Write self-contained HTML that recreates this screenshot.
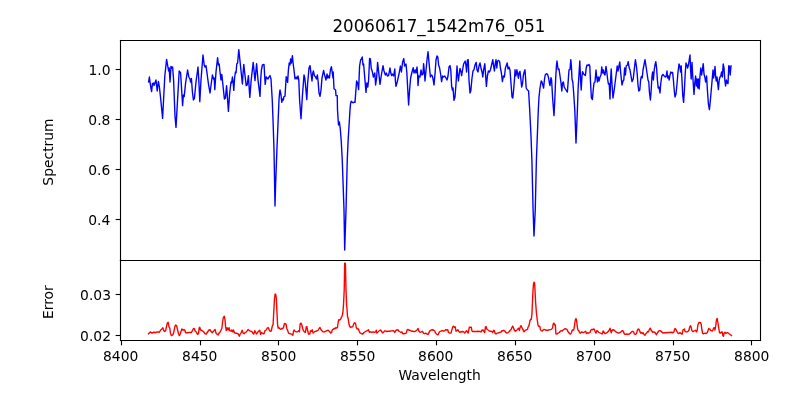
<!DOCTYPE html>
<html><head><meta charset="utf-8"><title>20060617_1542m76_051</title>
<style>html,body{margin:0;padding:0;background:#fff;overflow:hidden}svg{display:block}</style></head>
<body>
<svg width="800" height="400" viewBox="0 0 576 288" version="1.1">
 
 <defs>
  <style type="text/css">*{stroke-linejoin: round; stroke-linecap: butt}</style>
 </defs>
 <g id="figure_1">
  <g id="patch_1">
   <path d="M 0 288 
L 576 288 
L 576 0 
L 0 0 
z
" style="fill: #ffffff"/>
  </g>
  <g id="axes_1">
   <g id="patch_2">
    <path d="M 86.4 187.2 
L 547.2 187.2 
L 547.2 28.8 
L 86.4 28.8 
z
" style="fill: #ffffff"/>
   </g>
   <g id="matplotlib.axis_1">
    <g id="xtick_1"/>
    <g id="xtick_2"/>
    <g id="xtick_3"/>
    <g id="xtick_4"/>
    <g id="xtick_5"/>
    <g id="xtick_6"/>
    <g id="xtick_7"/>
    <g id="xtick_8"/>
    <g id="xtick_9"/>
   </g>
   <g id="matplotlib.axis_2">
    <g id="ytick_1">
     <g id="line2d_1">
      <defs>
       <path id="me117268fb3" d="M 0 0 
L -3.5 0 
" style="stroke: #000000; stroke-width: 0.8"/>
      </defs>
      <g>
       <use href="#me117268fb3" x="86.7600" y="158.0400" style="stroke: #000000; stroke-width: 0.8"/>
      </g>
     </g>
     <g id="text_1">
      <text style="font-size: 10px; font-family: 'DejaVu Sans', sans-serif; text-anchor: end" x="79.4720" y="161.7672">0.4</text>
     </g>
    </g>
    <g id="ytick_2">
     <g id="line2d_2">
      <g>
       <use href="#me117268fb3" x="86.7600" y="122.0400" style="stroke: #000000; stroke-width: 0.8"/>
      </g>
     </g>
     <g id="text_2">
      <text style="font-size: 10px; font-family: 'DejaVu Sans', sans-serif; text-anchor: end" x="79.4360" y="125.8392">0.6</text>
     </g>
    </g>
    <g id="ytick_3">
     <g id="line2d_3">
      <g>
       <use href="#me117268fb3" x="86.7600" y="86.0400" style="stroke: #000000; stroke-width: 0.8"/>
      </g>
     </g>
     <g id="text_3">
      <text style="font-size: 10px; font-family: 'DejaVu Sans', sans-serif; text-anchor: end" x="79.5080" y="89.8032">0.8</text>
     </g>
    </g>
    <g id="ytick_4">
     <g id="line2d_4">
      <g>
       <use href="#me117268fb3" x="86.7600" y="50.0400" style="stroke: #000000; stroke-width: 0.8"/>
      </g>
     </g>
     <g id="text_4">
      <text style="font-size: 10px; font-family: 'DejaVu Sans', sans-serif; text-anchor: end" x="79.5440" y="53.7672">1.0</text>
     </g>
    </g>
    <g id="text_5">
     <text style="font-size: 10px; font-family: 'DejaVu Sans', sans-serif; text-anchor: middle" x="38.2403" y="109.4400" transform="rotate(-90 38.2403 109.4400)">Spectrum</text>
    </g>
   </g>
   <g id="line2d_5">
    <path d="M 106.992 59.04 
L 107.568 55.44 
L 108.288 61.2 
L 109.152 65.952 
L 109.728 60.192 
L 110.592 59.76 
L 110.88 61.632 
L 112.32 57.6 
L 113.184 65.52 
L 114.048 58.608 
L 114.768 62.64 
L 115.632 70.56 
L 117.072 85.248 
L 118.656 54.72 
L 119.952 42.768 
L 121.392 51.12 
L 121.824 48.96 
L 122.4 59.04 
L 123.12 47.808 
L 123.84 49.248 
L 124.272 48.24 
L 124.992 57.6 
L 126 83.52 
L 126.72 91.728 
L 129.024 51.12 
L 130.032 52.56 
L 131.472 76.032 
L 132.048 68.4 
L 132.624 69.552 
L 133.632 59.76 
L 135.072 50.4 
L 135.936 55.44 
L 136.8 56.88 
L 137.232 59.04 
L 137.808 56.448 
L 138.528 66.24 
L 139.248 72 
L 139.968 70.848 
L 141.12 59.04 
L 142.56 48.24 
L 143.136 57.6 
L 143.856 73.152 
L 144.72 57.6 
L 146.16 39.6 
L 147.024 46.8 
L 147.6 48.24 
L 148.32 47.232 
L 150.192 61.2 
L 151.2 66.96 
L 152.928 54 
L 153.792 56.88 
L 154.224 56.16 
L 154.656 64.512 
L 155.52 51.84 
L 156.672 41.472 
L 157.248 46.8 
L 157.824 46.08 
L 158.4 51.84 
L 159.12 57.6 
L 159.696 53.568 
L 161.568 71.28 
L 162.288 70.56 
L 163.152 61.632 
L 164.448 80.208 
L 165.312 67.68 
L 166.32 59.04 
L 166.752 59.76 
L 167.328 55.44 
L 167.904 59.76 
L 168.336 65.088 
L 168.912 56.16 
L 169.488 51.84 
L 169.92 52.56 
L 170.496 46.08 
L 171.072 45.36 
L 171.936 35.712 
L 174.528 60.48 
L 174.96 53.28 
L 175.536 46.368 
L 176.112 51.84 
L 177.264 61.632 
L 177.984 61.2 
L 178.848 54.432 
L 179.856 70.128 
L 180.864 57.6 
L 182.304 44.928 
L 183.6 58.032 
L 184.752 45.792 
L 185.76 57.6 
L 187.2 69.408 
L 187.776 56.16 
L 188.208 50.4 
L 188.928 46.8 
L 190.08 46.368 
L 190.944 60.768 
L 191.664 55.44 
L 192.96 56.88 
L 193.68 55.44 
L 194.4 54.432 
L 195.12 56.88 
L 196.02 72 
L 196.632 87.84 
L 197.28 108 
L 198 148.32 
L 198.432 133.2 
L 199.368 108 
L 200.88 72 
L 201.312 66.6 
L 201.6 64.8 
L 202.32 68.4 
L 202.896 73.728 
L 203.472 71.28 
L 204.048 72 
L 204.336 69.696 
L 205.2 69.264 
L 206.064 55.296 
L 206.496 56.16 
L 207.072 59.328 
L 207.648 50.4 
L 208.224 45.36 
L 208.8 46.8 
L 209.232 42.48 
L 209.808 45.36 
L 210.528 40.032 
L 211.104 46.08 
L 211.68 50.4 
L 212.4 56.88 
L 213.264 55.44 
L 213.84 56.88 
L 214.56 54.72 
L 215.136 57.6 
L 215.712 72 
L 216.72 85.536 
L 217.728 69.12 
L 218.88 54 
L 219.456 56.16 
L 220.032 61.92 
L 220.896 71.712 
L 221.472 60.48 
L 222.48 48.96 
L 223.2 47.232 
L 224.64 58.32 
L 225.216 52.56 
L 225.648 51.12 
L 226.368 54.432 
L 227.232 55.44 
L 227.808 56.88 
L 228.528 54 
L 228.96 57.6 
L 229.68 66.96 
L 230.4 69.408 
L 231.12 64.8 
L 231.84 56.16 
L 232.992 50.688 
L 233.712 54 
L 234.72 57.6 
L 235.44 53.28 
L 236.016 56.16 
L 236.592 54.72 
L 237.168 56.16 
L 237.888 50.4 
L 238.608 47.952 
L 239.76 56.16 
L 239.904 51.84 
L 240.48 63.9 
L 241.632 64.8 
L 241.92 68.832 
L 242.82 68.832 
L 243 79.2 
L 243.72 90 
L 244.368 87.84 
L 244.98 92.7 
L 245.7 101.7 
L 246.42 115.2 
L 247.68 151.2 
L 248.184 180 
L 249.12 151.2 
L 250.02 115.2 
L 250.632 101.52 
L 252 79.2 
L 252.36 74.88 
L 252.864 72.864 
L 253.584 73.584 
L 254.304 74.016 
L 254.88 73.584 
L 255.6 73.728 
L 256.752 58.32 
L 257.472 59.76 
L 258.192 64.512 
L 258.912 47.52 
L 259.632 43.2 
L 260.208 42.48 
L 260.784 41.04 
L 261.36 46.8 
L 261.792 46.08 
L 263.52 66.528 
L 264.096 59.76 
L 264.816 62.64 
L 265.392 57.6 
L 266.112 42.048 
L 266.688 42.48 
L 267.264 48.96 
L 268.128 51.84 
L 268.848 55.44 
L 269.424 54 
L 269.856 52.56 
L 270.432 61.2 
L 271.152 56.16 
L 271.872 44.928 
L 273.6 60.768 
L 274.464 54.72 
L 275.76 47.232 
L 276.48 51.12 
L 277.488 54 
L 278.208 52.56 
L 278.928 54.72 
L 279.792 54.432 
L 280.8 48.96 
L 281.376 52.56 
L 281.952 54.432 
L 282.528 53.28 
L 283.392 54.72 
L 284.256 49.68 
L 284.688 58.32 
L 285.12 62.208 
L 285.984 59.04 
L 287.28 53.28 
L 288.288 47.52 
L 289.008 51.84 
L 289.872 44.64 
L 290.736 42.192 
L 291.312 47.52 
L 292.32 46.08 
L 292.896 51.84 
L 294.192 75.6 
L 294.912 64.8 
L 295.632 56.16 
L 296.64 51.84 
L 297.504 48.672 
L 298.08 52.56 
L 298.944 50.4 
L 299.52 52.56 
L 300.24 48.24 
L 300.672 53.28 
L 300.96 61.632 
L 301.536 54.72 
L 302.4 55.44 
L 303.12 50.4 
L 303.84 54 
L 304.56 53.28 
L 304.992 45.792 
L 305.568 51.84 
L 306 58.32 
L 307.44 43.2 
L 308.16 37.152 
L 309.888 55.44 
L 310.608 54 
L 311.328 54.72 
L 311.904 57.6 
L 312.48 61.2 
L 313.2 53.28 
L 313.92 43.2 
L 314.64 40.32 
L 315.216 41.04 
L 315.792 46.8 
L 316.512 48.96 
L 317.232 53.28 
L 317.952 58.752 
L 318.672 54.72 
L 319.392 55.44 
L 320.256 54.72 
L 321.12 56.16 
L 321.84 57.6 
L 322.56 54.72 
L 323.28 48.24 
L 324 47.232 
L 324.576 50.4 
L 325.152 61.92 
L 325.728 64.8 
L 326.16 63.36 
L 326.88 72.288 
L 327.6 69.84 
L 328.32 60.48 
L 329.04 47.52 
L 329.472 53.28 
L 330.048 58.32 
L 330.624 53.28 
L 331.2 49.248 
L 331.92 51.84 
L 332.352 54.432 
L 333.792 46.08 
L 334.944 43.92 
L 335.52 47.52 
L 335.952 51.84 
L 336.528 43.2 
L 337.104 42.912 
L 337.68 57.6 
L 338.4 66.96 
L 338.976 65.52 
L 339.84 56.16 
L 340.56 51.12 
L 341.28 50.112 
L 342 46.8 
L 342.864 44.928 
L 343.44 50.4 
L 344.16 51.84 
L 344.88 47.52 
L 345.6 45.36 
L 346.32 48.96 
L 347.04 51.84 
L 347.616 55.44 
L 348.192 50.4 
L 349.056 45.792 
L 350.208 62.208 
L 350.928 54.72 
L 351.648 51.12 
L 352.368 51.84 
L 353.088 50.4 
L 354.816 42.912 
L 355.392 47.52 
L 355.968 51.12 
L 356.544 46.08 
L 357.12 42.912 
L 357.696 48.96 
L 358.272 43.92 
L 358.992 43.488 
L 359.712 44.352 
L 360.288 48.96 
L 361.008 52.56 
L 361.728 58.752 
L 362.448 54.72 
L 363.168 55.44 
L 363.888 48.96 
L 365.184 45.36 
L 365.76 49.68 
L 366.48 48.24 
L 367.2 50.4 
L 368.64 69.84 
L 369.216 70.56 
L 369.792 64.8 
L 370.512 56.16 
L 370.8 50.256 
L 371.448 54.576 
L 372.168 50.256 
L 373.248 56.304 
L 373.824 52.128 
L 374.4 51.408 
L 375.624 62.64 
L 376.272 59.76 
L 376.848 54 
L 377.424 51.84 
L 378 50.256 
L 378.864 63.36 
L 379.728 64.8 
L 380.592 65.52 
L 381.384 79.2 
L 382.32 97.92 
L 382.968 115.2 
L 383.832 151.2 
L 384.48 169.92 
L 385.38 151.2 
L 386.208 115.2 
L 387.576 79.2 
L 388.08 69.84 
L 388.8 63.36 
L 389.664 58.32 
L 390.24 59.04 
L 391.392 63.36 
L 391.968 57.6 
L 392.544 54 
L 393.408 52.992 
L 394.272 53.568 
L 394.992 56.16 
L 395.568 59.76 
L 396 61.632 
L 396.72 55.872 
L 397.152 57.6 
L 397.872 70.56 
L 398.88 83.232 
L 399.456 72 
L 400.032 57.6 
L 400.608 47.52 
L 401.04 43.92 
L 401.472 47.52 
L 401.904 50.112 
L 402.48 49.68 
L 403.92 59.76 
L 404.496 65.52 
L 405.072 59.76 
L 405.648 59.04 
L 406.224 62.64 
L 407.952 65.52 
L 408.528 66.24 
L 409.68 50.4 
L 410.4 50.112 
L 410.976 42.912 
L 411.408 47.52 
L 411.84 56.88 
L 412.416 59.04 
L 412.992 66.24 
L 413.856 79.2 
L 414.72 102.96 
L 415.728 79.2 
L 416.232 63.9 
L 417.456 43.92 
L 418.032 57.6 
L 418.464 64.8 
L 419.04 54.72 
L 419.472 51.552 
L 420.192 53.28 
L 421.488 54.432 
L 422.064 48.96 
L 422.64 46.8 
L 423.36 47.232 
L 424.08 46.368 
L 424.656 47.52 
L 425.088 57.6 
L 425.808 70.56 
L 426.528 71.712 
L 427.104 64.8 
L 427.68 59.76 
L 428.4 59.04 
L 429.12 50.4 
L 429.552 54.72 
L 430.128 59.04 
L 430.704 55.44 
L 431.28 58.32 
L 432 55.44 
L 432.72 54 
L 433.296 48.24 
L 433.872 52.56 
L 434.448 50.4 
L 435.024 53.28 
L 435.6 54 
L 436.32 47.808 
L 436.896 51.84 
L 437.472 56.88 
L 438.048 60.48 
L 438.624 60.192 
L 439.2 71.28 
L 439.632 57.6 
L 440.064 49.68 
L 440.64 60.48 
L 441.36 70.56 
L 442.224 64.8 
L 444.384 47.52 
L 444.96 51.12 
L 446.256 44.64 
L 446.832 51.84 
L 447.84 61.2 
L 448.56 58.32 
L 449.136 57.6 
L 449.712 48.96 
L 450.288 54 
L 450.864 47.52 
L 451.728 46.8 
L 452.304 44.352 
L 452.88 48.24 
L 453.6 50.4 
L 455.04 58.752 
L 455.904 56.88 
L 457.488 42.912 
L 458.208 47.52 
L 458.784 53.28 
L 459.36 61.2 
L 459.936 65.52 
L 460.656 64.8 
L 461.232 57.6 
L 461.808 55.008 
L 462.384 56.16 
L 462.96 50.4 
L 464.4 42.912 
L 465.84 52.56 
L 466.56 57.6 
L 467.136 59.04 
L 467.568 66.24 
L 468.288 72 
L 468.864 64.8 
L 469.44 54.72 
L 469.872 51.84 
L 470.448 57.6 
L 471.024 50.4 
L 471.6 46.8 
L 472.176 44.352 
L 472.752 48.96 
L 473.328 57.6 
L 473.904 63.36 
L 474.48 62.64 
L 475.2 66.96 
L 475.776 59.76 
L 476.496 54.72 
L 477.36 53.568 
L 478.224 54.72 
L 479.088 55.44 
L 479.664 54.72 
L 480.24 51.12 
L 480.672 56.16 
L 481.248 54.72 
L 481.824 57.6 
L 482.4 54 
L 482.976 51.84 
L 483.696 52.56 
L 484.272 52.128 
L 484.848 57.6 
L 485.424 64.8 
L 486 69.84 
L 486.72 67.68 
L 487.44 60.48 
L 488.16 51.84 
L 488.88 46.08 
L 489.456 47.52 
L 490.032 51.84 
L 490.464 47.52 
L 491.616 69.12 
L 492.192 73.728 
L 492.768 64.8 
L 493.344 53.28 
L 493.92 45.36 
L 494.496 46.8 
L 495.072 48.96 
L 495.648 46.8 
L 496.8 39.6 
L 497.232 50.4 
L 497.664 56.88 
L 498.24 44.928 
L 498.672 53.28 
L 499.68 67.968 
L 500.256 59.76 
L 500.832 54.72 
L 501.408 61.92 
L 501.84 56.88 
L 502.416 63.36 
L 502.848 56.88 
L 503.424 64.08 
L 504 54.72 
L 504.576 48.96 
L 505.152 54 
L 505.728 50.4 
L 506.304 45.792 
L 506.88 53.28 
L 507.456 55.44 
L 508.032 59.04 
L 508.752 54.72 
L 509.328 64.8 
L 510.048 74.88 
L 510.768 78.912 
L 511.488 72 
L 513.36 50.4 
L 513.792 56.16 
L 514.368 52.56 
L 514.8 47.808 
L 515.232 54.72 
L 515.664 58.32 
L 516.24 55.44 
L 517.248 64.512 
L 517.824 57.6 
L 518.4 55.44 
L 518.976 54.72 
L 519.552 51.84 
L 520.128 55.44 
L 520.704 46.08 
L 521.28 48.96 
L 521.856 57.6 
L 522.432 61.92 
L 523.008 57.6 
L 523.584 59.76 
L 524.16 60.192 
L 524.736 47.232 
L 525.24 47.808 
L 525.744 54 
L 526.32 47.52 
L 526.32 47.52 
" clip-path="url(#p5e064cdd18)" style="fill: none; stroke: #0000ff; stroke-linecap: square"/>
   </g>
   <g id="patch_3">
    <path d="M 86.7600 187.5600 L 86.7600 29.1600" style="fill: none; stroke: #000000; stroke-width: 0.8; stroke-linejoin: miter; stroke-linecap: square"/>
   </g>
   <g id="patch_4">
    <path d="M 547.5600 187.5600 L 547.5600 29.1600" style="fill: none; stroke: #000000; stroke-width: 0.8; stroke-linejoin: miter; stroke-linecap: square"/>
   </g>
   <g id="patch_5">
    <path d="M 86.7600 187.5600 L 547.5600 187.5600" style="fill: none; stroke: #000000; stroke-width: 0.8; stroke-linejoin: miter; stroke-linecap: square"/>
   </g>
   <g id="patch_6">
    <path d="M 86.7600 29.1600 L 547.5600 29.1600" style="fill: none; stroke: #000000; stroke-width: 0.8; stroke-linejoin: miter; stroke-linecap: square"/>
   </g>
   <g id="text_6">
    <text style="font-size: 12px; font-family: 'DejaVu Sans', sans-serif; text-anchor: middle" x="316.0800" y="22.9440" transform="translate(0 22.9440) scale(1 1.1000) translate(0 -22.9440)">20060617_1542m76_051</text>
   </g>
  </g>
  <g id="axes_2">
   <g id="patch_7">
    <path d="M 86.4 244.8 
L 547.2 244.8 
L 547.2 187.2 
L 86.4 187.2 
z
" style="fill: #ffffff"/>
   </g>
   <g id="matplotlib.axis_3">
    <g id="xtick_10">
     <g id="line2d_6">
      <defs>
       <path id="m2cc2ab7b81" d="M 0 0 
L 0 3.5 
" style="stroke: #000000; stroke-width: 0.8"/>
      </defs>
      <g>
       <use href="#m2cc2ab7b81" x="87.4800" y="245.1600" style="stroke: #000000; stroke-width: 0.8"/>
      </g>
     </g>
     <g id="text_7">
      <text style="font-size: 10px; font-family: 'DejaVu Sans', sans-serif; text-anchor: middle" x="86.9114" y="260.1544">8400</text>
     </g>
    </g>
    <g id="xtick_11">
     <g id="line2d_7">
      <g>
       <use href="#m2cc2ab7b81" x="144.3600" y="245.1600" style="stroke: #000000; stroke-width: 0.8"/>
      </g>
     </g>
     <g id="text_8">
      <text style="font-size: 10px; font-family: 'DejaVu Sans', sans-serif; text-anchor: middle" x="143.7991" y="260.1544">8450</text>
     </g>
    </g>
    <g id="xtick_12">
     <g id="line2d_8">
      <g>
       <use href="#m2cc2ab7b81" x="200.5200" y="245.1600" style="stroke: #000000; stroke-width: 0.8"/>
      </g>
     </g>
     <g id="text_9">
      <text style="font-size: 10px; font-family: 'DejaVu Sans', sans-serif; text-anchor: middle" x="200.6940" y="260.1688">8500</text>
     </g>
    </g>
    <g id="xtick_13">
     <g id="line2d_9">
      <g>
       <use href="#m2cc2ab7b81" x="257.4000" y="245.1600" style="stroke: #000000; stroke-width: 0.8"/>
      </g>
     </g>
     <g id="text_10">
      <text style="font-size: 10px; font-family: 'DejaVu Sans', sans-serif; text-anchor: middle" x="257.5458" y="260.1688">8550</text>
     </g>
    </g>
    <g id="xtick_14">
     <g id="line2d_10">
      <g>
       <use href="#m2cc2ab7b81" x="314.2800" y="245.1600" style="stroke: #000000; stroke-width: 0.8"/>
      </g>
     </g>
     <g id="text_11">
      <text style="font-size: 10px; font-family: 'DejaVu Sans', sans-serif; text-anchor: middle" x="313.7567" y="260.1760">8600</text>
     </g>
    </g>
    <g id="xtick_15">
     <g id="line2d_11">
      <g>
       <use href="#m2cc2ab7b81" x="371.1600" y="245.1600" style="stroke: #000000; stroke-width: 0.8"/>
      </g>
     </g>
     <g id="text_12">
      <text style="font-size: 10px; font-family: 'DejaVu Sans', sans-serif; text-anchor: middle" x="370.6301" y="260.1760">8650</text>
     </g>
    </g>
    <g id="xtick_16">
     <g id="line2d_12">
      <g>
       <use href="#m2cc2ab7b81" x="428.0400" y="245.1600" style="stroke: #000000; stroke-width: 0.8"/>
      </g>
     </g>
     <g id="text_13">
      <text style="font-size: 10px; font-family: 'DejaVu Sans', sans-serif; text-anchor: middle" x="427.5178" y="260.1760">8700</text>
     </g>
    </g>
    <g id="xtick_17">
     <g id="line2d_13">
      <g>
       <use href="#m2cc2ab7b81" x="484.9200" y="245.1600" style="stroke: #000000; stroke-width: 0.8"/>
      </g>
     </g>
     <g id="text_14">
      <text style="font-size: 10px; font-family: 'DejaVu Sans', sans-serif; text-anchor: middle" x="484.3263" y="260.1760">8750</text>
     </g>
    </g>
    <g id="xtick_18">
     <g id="line2d_14">
      <g>
       <use href="#m2cc2ab7b81" x="541.0800" y="245.1600" style="stroke: #000000; stroke-width: 0.8"/>
      </g>
     </g>
     <g id="text_15">
      <text style="font-size: 10px; font-family: 'DejaVu Sans', sans-serif; text-anchor: middle" x="541.2789" y="260.1688">8800</text>
     </g>
    </g>
    <g id="text_16">
     <text style="font-size: 10px; font-family: 'DejaVu Sans', sans-serif; text-anchor: middle" x="316.5840" y="273.7966">Wavelength</text>
    </g>
   </g>
   <g id="matplotlib.axis_4">
    <g id="ytick_5">
     <g id="line2d_15">
      <g>
       <use href="#me117268fb3" x="86.7600" y="241.5600" style="stroke: #000000; stroke-width: 0.8"/>
      </g>
     </g>
     <g id="text_17">
      <text style="font-size: 10px; font-family: 'DejaVu Sans', sans-serif; text-anchor: end" x="79.9040" y="245.7565">0.02</text>
     </g>
    </g>
    <g id="ytick_6">
     <g id="line2d_16">
      <g>
       <use href="#me117268fb3" x="86.7600" y="212.0400" style="stroke: #000000; stroke-width: 0.8"/>
      </g>
     </g>
     <g id="text_18">
      <text style="font-size: 10px; font-family: 'DejaVu Sans', sans-serif; text-anchor: end" x="79.9040" y="215.9832">0.03</text>
     </g>
    </g>
    <g id="text_19">
     <text style="font-size: 10px; font-family: 'DejaVu Sans', sans-serif; text-anchor: middle" x="38.2403" y="217.5120" transform="rotate(-90 38.2403 217.5120)">Error</text>
    </g>
   </g>
   <g id="line2d_17">
    <path d="M 106.92 240.3 
L 108.4464 238.9536 
L 109.3536 239.8464 
L 110.7 239.22 
L 112.0464 239.4 
L 113.4 238.9536 
L 114.7536 239.22 
L 115.6464 237.6 
L 116.5536 236.88 
L 117.2736 235.98 
L 117.9 238.0464 
L 118.62 238.68 
L 119.2464 238.0464 
L 120.42 232.6464 
L 121.0464 232.02 
L 121.68 235.3536 
L 122.22 236.2464 
L 122.8464 240.3 
L 123.48 241.6464 
L 124.38 241.2 
L 125.1 239.4 
L 125.82 235.3536 
L 126.4464 234 
L 127.1664 234.4464 
L 128.52 240.3 
L 129.1536 241.6464 
L 129.78 240.3 
L 130.9536 236.88 
L 131.58 237.6 
L 132.3 237.42 
L 133.02 237.6 
L 133.6464 239.58 
L 135 239.58 
L 136.3536 239.4 
L 137.7 239.4 
L 138.6 238.0464 
L 139.32 236.52 
L 139.9536 236.7 
L 140.58 238.5 
L 141.48 239.22 
L 142.2 240.7536 
L 142.92 240.3 
L 143.3664 236.2464 
L 143.82 235.62 
L 144.36 237.6 
L 145.08 237.78 
L 146.7 238.9536 
L 147.6 240.3 
L 148.5 240.48 
L 150.3 237.78 
L 151.2 237.42 
L 151.92 238.5 
L 152.82 239.58 
L 154.8 237.1536 
L 155.4336 239.58 
L 156.1536 240.48 
L 157.0464 241.2 
L 157.68 239.8464 
L 158.4 239.22 
L 159.12 237.6 
L 159.7536 236.52 
L 160.2 232.2 
L 160.8336 228.6 
L 161.5536 227.7 
L 162 230.4 
L 162.4464 235.3536 
L 162.9 238.0464 
L 163.5264 235.98 
L 164.2464 237.6 
L 164.88 235.98 
L 165.42 238.0464 
L 166.32 238.5 
L 166.9536 237.6 
L 167.58 238.9536 
L 168.12 237.6 
L 168.7536 239.58 
L 171.4464 240.3 
L 172.3536 242.1 
L 172.8 240.7536 
L 173.52 239.8464 
L 174.3264 237.78 
L 175.0464 239.8464 
L 175.68 240.3 
L 176.58 239.4 
L 177.48 238.9536 
L 178.2 237.78 
L 178.74 237.24 
L 179.5536 238.0464 
L 180.4464 238.5 
L 181.3536 238.68 
L 181.98 239.8464 
L 182.7 240.48 
L 183.42 238.0464 
L 184.0464 239.4 
L 184.68 240.48 
L 185.4 239.4 
L 186.3 238.32 
L 187.02 237.78 
L 187.6464 240.7536 
L 188.28 239.4 
L 189.18 240.12 
L 190.08 240.3 
L 190.8 238.0464 
L 191.7 237.6 
L 192.42 236.2464 
L 193.14 235.8 
L 193.68 237.1536 
L 194.4 238.5 
L 195.3 238.32 
L 196.02 234.9 
L 196.6464 233.5536 
L 197.5536 216 
L 198 211.9536 
L 198.4464 211.68 
L 198.9 214.2 
L 199.8 233.1 
L 200.2464 236.2464 
L 200.7 235.8 
L 201.42 236.7 
L 202.0464 237.1536 
L 202.68 236.52 
L 203.4 236.7 
L 204.12 235.8 
L 204.7536 233.1 
L 205.38 232.92 
L 205.92 233.28 
L 206.5536 236.7 
L 207.18 238.0464 
L 207.72 239.8464 
L 208.3536 240.12 
L 209.2464 240.3 
L 210.1536 240.7536 
L 210.8736 241.38 
L 211.32 238.5 
L 211.7664 237.6 
L 212.4 238.5 
L 213.3 238.9536 
L 214.2 238.9536 
L 215.1 238.0464 
L 215.5536 238.9536 
L 216.18 232.92 
L 216.72 232.6464 
L 217.3536 234 
L 217.98 236.7 
L 218.52 238.0464 
L 219.1536 238.9536 
L 219.8736 239.4 
L 220.5 235.3536 
L 220.9536 235.08 
L 221.4 237.6 
L 222.12 240.48 
L 223.02 240.48 
L 223.6464 238.0464 
L 224.28 238.5 
L 224.82 237.42 
L 225.4464 239.8464 
L 226.3536 238.9536 
L 227.2464 238.5 
L 228.1536 238.32 
L 229.0464 237.78 
L 229.68 236.7 
L 230.4 235.8 
L 231.12 237.42 
L 231.9264 238.32 
L 232.6464 238.9536 
L 233.5536 238.9536 
L 235.3536 238.0464 
L 236.2464 237.78 
L 237.1536 238.5 
L 238.0464 239.8464 
L 238.68 239.4 
L 239.4 237.1536 
L 239.8464 237.1536 
L 240.48 236.52 
L 241.2 236.7 
L 241.92 235.8 
L 242.5536 236.2464 
L 243 235.8 
L 243.4464 232.2 
L 243.9 230.22 
L 244.62 230.4 
L 245.2464 229.9536 
L 245.7 228.6 
L 246.42 227.2464 
L 246.8736 225 
L 247.32 219.6 
L 247.824 208.8 
L 248.184 189.504 
L 248.688 189.504 
L 249.12 208.8 
L 249.552 219.6 
L 249.84 222.3 
L 250.2 228.1536 
L 250.6464 229.0464 
L 251.1 232.38 
L 251.7264 234.9 
L 252.4464 235.8 
L 253.08 235.3536 
L 253.98 235.3536 
L 254.7 233.1 
L 255.42 232.38 
L 256.0464 233.1 
L 256.5 235.8 
L 257.22 236.88 
L 258.12 236.88 
L 258.7536 238.9536 
L 259.38 239.8464 
L 261.18 240.48 
L 261.9 239.58 
L 263.7 238.32 
L 264.6 238.0464 
L 265.32 237.42 
L 265.9536 239.22 
L 266.8464 238.9536 
L 267.7536 239.22 
L 268.6464 238.9536 
L 269.5536 239.22 
L 270.4464 238.9536 
L 270.9 237.78 
L 271.3536 239.8464 
L 273.1536 238.0464 
L 274.0464 237.6 
L 275.4 239.58 
L 276.12 239.4 
L 276.7536 238.32 
L 277.6464 238.32 
L 278.5536 238.68 
L 279.4464 238.5 
L 280.3536 238.5 
L 283.0464 238.0464 
L 283.68 238.5 
L 284.22 239.4 
L 284.8464 238.0464 
L 285.7536 237.42 
L 286.6464 237.6 
L 287.28 238.5 
L 288.72 239.4 
L 289.3536 238.9536 
L 289.98 240.3 
L 290.88 240.3 
L 292.5 239.8464 
L 293.22 237.42 
L 293.8464 237.1536 
L 294.48 237.78 
L 295.2 237.78 
L 296.1 238.32 
L 297.9 238.68 
L 298.8 238.68 
L 300.42 237.42 
L 301.0464 236.52 
L 301.68 238.5 
L 302.4 239.22 
L 303.3 238.9536 
L 304.2 238.5 
L 304.92 239.8464 
L 305.5536 240.3 
L 306.4464 239.8464 
L 307.3536 240.48 
L 308.2464 240.7536 
L 309.6 238.0464 
L 310.5 237.6 
L 311.4 237.42 
L 312.3 237.78 
L 313.02 238.32 
L 313.6464 239.8464 
L 314.5536 240.7536 
L 315.4464 241.02 
L 316.08 239.4 
L 316.8 238.68 
L 317.52 238.32 
L 318.42 238.0464 
L 319.32 238.32 
L 320.22 238.0464 
L 320.8464 237.42 
L 321.7536 237.6 
L 322.38 237.42 
L 322.92 239.4 
L 323.82 239.8464 
L 324.72 239.8464 
L 325.98 235.3536 
L 326.52 234.9 
L 327.1536 235.62 
L 327.78 235.3536 
L 328.32 238.5 
L 328.9536 238.0464 
L 329.58 237.42 
L 330.3 238.5 
L 331.02 239.22 
L 333 238.68 
L 333.9 238.9536 
L 334.62 239.8464 
L 335.88 238.0464 
L 337.0464 239.8464 
L 337.9536 235.62 
L 339.3 235.62 
L 339.7536 238.0464 
L 340.2 238.68 
L 342.9 238.68 
L 344.2464 238.5 
L 345.6 238.68 
L 346.5 238.9536 
L 346.9536 237.78 
L 347.8464 237.6 
L 349.02 239.4 
L 349.4736 235.62 
L 349.92 235.08 
L 350.3664 236.7 
L 351 237.42 
L 351.72 237.78 
L 352.3536 238.32 
L 354.1536 238.68 
L 354.78 239.4 
L 355.5 237.78 
L 355.9536 238.0464 
L 356.4 239.8464 
L 357.12 240.48 
L 358.02 239.8464 
L 359.1 239.58 
L 360.9 238.9536 
L 361.3536 238.0464 
L 361.98 238.32 
L 362.7 237.78 
L 363.42 238.32 
L 364.0464 239.22 
L 364.9536 239.8464 
L 365.8464 239.4 
L 366.7536 238.68 
L 367.38 237.78 
L 367.92 237.42 
L 368.5536 235.8 
L 369.18 234.72 
L 369.72 236.2464 
L 370.3536 237.6 
L 370.98 238.5 
L 371.7 238.0464 
L 372.6 237.1536 
L 373.32 236.2464 
L 373.9536 238.0464 
L 374.58 235.3536 
L 375.12 234.4464 
L 375.48 235.3536 
L 376.02 236.2464 
L 377.28 238.9536 
L 378 238.0464 
L 378.9 237.42 
L 379.8 237.1536 
L 380.2464 235.3536 
L 380.7 234.9 
L 381.1536 233.1 
L 381.6 230.8464 
L 382.0464 229.9536 
L 382.5 229.9536 
L 382.9536 226.8 
L 383.6736 210.6 
L 384.12 204.3 
L 384.48 203.22 
L 384.9264 203.8464 
L 385.6464 217.8 
L 386.28 225.9 
L 386.82 230.4 
L 387.4464 234.4464 
L 388.08 235.08 
L 388.62 234.9 
L 389.0736 237.1536 
L 389.7 238.0464 
L 390.42 238.32 
L 391.0464 237.6 
L 391.68 237.1536 
L 393.3 237.78 
L 394.2 237.78 
L 396.9 237.1536 
L 397.8 236.2464 
L 398.2464 233.5536 
L 398.7 232.6464 
L 399.1536 233.1 
L 399.6 234.4464 
L 399.8736 234 
L 400.2336 240.3 
L 400.9536 240.48 
L 401.8464 239.8464 
L 402.7536 239.4 
L 403.38 238.5 
L 404.1 238.0464 
L 404.82 238.32 
L 405.4464 237.6 
L 406.3536 236.88 
L 407.2464 236.7 
L 408.1536 237.1536 
L 408.78 238.5 
L 410.22 240.3 
L 410.8464 240.48 
L 411.48 239.4 
L 412.02 237.6 
L 413.1 237.6 
L 413.64 234.4464 
L 414.18 230.4 
L 414.72 229.32 
L 415.1664 230.8464 
L 415.62 234.9 
L 416.0736 237.6 
L 416.7 238.0464 
L 417.42 239.58 
L 418.0464 239.8464 
L 418.68 238.9536 
L 419.4 239.22 
L 420.3 239.4 
L 421.6464 238.5 
L 422.28 240.12 
L 423 239.58 
L 423.9 239.8464 
L 424.8 239.4 
L 425.4336 237.6 
L 426.1536 237.1536 
L 426.78 237.42 
L 427.32 236.88 
L 427.9536 237.1536 
L 428.4 238.5 
L 429.0336 239.8464 
L 429.7536 238.0464 
L 430.38 238.5 
L 431.1 239.22 
L 433.62 240.48 
L 434.2464 238.32 
L 435.6 240.12 
L 436.5 239.8464 
L 437.4 239.22 
L 438.7536 237.6 
L 439.2 236.2464 
L 440.1 239.58 
L 440.82 237.6 
L 441.9 237.42 
L 443.52 238.9536 
L 445.32 239.8464 
L 446.22 239.58 
L 447.12 238.9536 
L 447.7536 238.32 
L 448.38 238.0464 
L 448.92 238.9536 
L 449.5536 240.48 
L 450.4464 240.7536 
L 451.3536 240.48 
L 452.2464 240.7536 
L 453.1536 240.48 
L 454.0464 239.8464 
L 454.68 238.9536 
L 455.4 238.5 
L 456.12 238.9536 
L 456.7536 240.48 
L 457.6464 240.7536 
L 458.28 240.12 
L 458.82 238.0464 
L 459.4464 236.88 
L 460.08 237.1536 
L 461.2464 239.8464 
L 461.88 239.4 
L 462.42 240.12 
L 463.0464 239.58 
L 463.68 240.7536 
L 464.4 241.38 
L 465.12 240.12 
L 465.7536 239.58 
L 466.38 238.68 
L 466.92 238.9536 
L 467.5536 237.1536 
L 468.18 236.2464 
L 468.72 237.6 
L 469.98 239.22 
L 470.7 238.9536 
L 471.42 239.22 
L 472.68 241.02 
L 473.4 239.58 
L 474.12 238.5 
L 474.7536 238.0464 
L 475.38 238.0464 
L 477.4464 239.8464 
L 478.3536 239.58 
L 479.7 239.58 
L 481.0464 239.4 
L 482.4 239.4 
L 483.7536 239.22 
L 484.6464 239.58 
L 485.28 238.9536 
L 485.7264 236.88 
L 486.4464 236.7 
L 487.8 239.58 
L 488.52 240.12 
L 489.78 239.58 
L 490.5 240.3 
L 491.22 240.48 
L 491.6736 237.6 
L 492.7536 236.88 
L 493.2 238.5 
L 493.92 238.9536 
L 494.82 238.9536 
L 495.4464 238.5 
L 496.08 237.6 
L 496.62 235.3536 
L 497.2464 234.4464 
L 497.7 235.98 
L 498.1536 238.0464 
L 498.78 238.68 
L 499.5 238.5 
L 500.8464 237.78 
L 501.48 238.9536 
L 502.02 237.6 
L 502.4736 234 
L 503.1 232.38 
L 503.82 232.2 
L 504.4464 232.38 
L 504.9 233.5536 
L 505.3536 237.6 
L 505.98 240.12 
L 506.7 240.3 
L 507.6 239.8464 
L 508.5 240.12 
L 509.22 239.58 
L 510.3 236.52 
L 511.02 236.88 
L 511.6464 237.78 
L 512.5536 238.32 
L 513.18 238.0464 
L 513.72 236.2464 
L 514.3536 235.98 
L 514.8 237.6 
L 515.4336 234 
L 515.88 229.9536 
L 516.42 229.32 
L 518.04 239.58 
L 518.8464 239.8464 
L 519.48 238.9536 
L 520.02 238.9536 
L 520.4736 241.6464 
L 520.92 242.1 
L 521.3664 239.8464 
L 522 239.22 
L 522.72 240.12 
L 523.3536 239.58 
L 523.98 239.58 
L 526.68 241.6464 
L 526.68 241.6464 
" clip-path="url(#p97e666be84)" style="fill: none; stroke: #ff0000; stroke-linecap: square"/>
   </g>
   <g id="patch_8">
    <path d="M 86.7600 245.1600 L 86.7600 187.5600" style="fill: none; stroke: #000000; stroke-width: 0.8; stroke-linejoin: miter; stroke-linecap: square"/>
   </g>
   <g id="patch_9">
    <path d="M 547.5600 245.1600 L 547.5600 187.5600" style="fill: none; stroke: #000000; stroke-width: 0.8; stroke-linejoin: miter; stroke-linecap: square"/>
   </g>
   <g id="patch_10">
    <path d="M 86.7600 245.1600 L 547.5600 245.1600" style="fill: none; stroke: #000000; stroke-width: 0.8; stroke-linejoin: miter; stroke-linecap: square"/>
   </g>
   <g id="patch_11">
    <path d="M 86.7600 187.5600 L 547.5600 187.5600" style="fill: none; stroke: #000000; stroke-width: 0.8; stroke-linejoin: miter; stroke-linecap: square"/>
   </g>
  </g>
 </g>
 <defs>
  <clipPath id="p5e064cdd18">
   <rect x="86.4" y="28.8" width="460.8" height="158.4"/>
  </clipPath>
  <clipPath id="p97e666be84">
   <rect x="86.4" y="187.2" width="460.8" height="57.6"/>
  </clipPath>
 </defs>
</svg>

</body></html>
